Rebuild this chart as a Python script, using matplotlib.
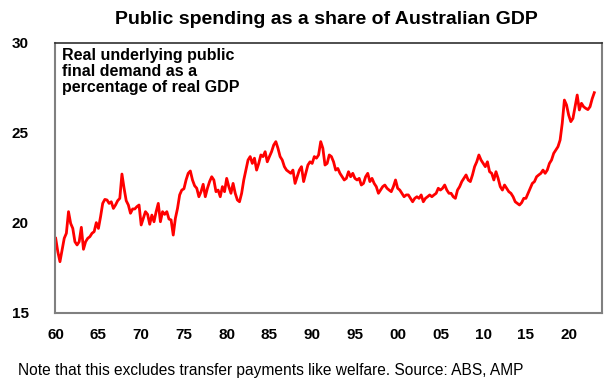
import matplotlib
matplotlib.use("Agg")
import matplotlib.pyplot as plt
import numpy as np

plt.rcParams['font.family'] = ['Liberation Sans', 'DejaVu Sans']

# quarterly readings, real underlying public final demand as % of real GDP
first_year = 1960.0
share = [
    # 1960s
    19.15, 18.4, 17.85, 18.5, 19.15, 19.43, 20.63, 19.98, 19.7, 18.96,
    18.78, 18.96, 19.76, 18.54, 18.96, 19.15, 19.24, 19.43, 19.52, 20.02,
    19.7, 20.35, 21.09, 21.31, 21.28, 21.09, 21.18, 20.81, 21.0, 21.24,
    21.37, 22.72, 21.93, 21.24, 21.0, 20.54, 20.78, 20.78,
    # 1970s
    20.91, 21.0, 19.89, 20.26, 20.63, 20.48, 19.93, 20.44, 20.07, 20.63,
    21.09, 20.07, 20.63, 20.48, 20.63, 20.22, 20.17, 19.33, 20.26, 20.81,
    21.56, 21.83, 21.9, 22.39, 22.76, 22.89, 22.39, 22.07, 21.93, 21.46,
    21.74, 22.15, 21.46, 21.93, 22.3, 22.57, 22.39, 21.74,
    # late 70s - 1991
    21.83, 21.46, 22.02, 21.74, 22.48, 22.02, 21.65, 22.2, 21.65, 21.28,
    21.18, 21.65, 22.39, 22.94, 23.5, 23.69, 23.31, 23.6, 22.94, 23.31,
    23.78, 23.69, 23.96, 23.4, 23.69, 23.96, 24.33, 24.52, 24.15, 23.69,
    23.5, 23.13, 22.94, 22.85, 22.76, 22.94, 22.2, 22.57, 22.94, 23.13,
    22.3, 22.76, 23.22, 23.4, 23.31, 23.69, 23.6, 23.78, 24.52,
    # 1991 - 2006
    24.15, 23.22, 23.31, 23.78, 23.69, 23.4, 22.94, 23.03, 22.76, 22.57,
    22.39, 22.48, 22.85, 22.57, 22.76, 22.48, 22.39, 22.48, 22.11, 22.2,
    22.57, 22.76, 22.3, 22.48, 22.2, 22.02, 21.65, 21.83, 22.02, 22.11,
    21.93, 21.83, 21.74, 22.02, 22.39, 21.93, 21.83, 21.65, 21.46, 21.56,
    21.56, 21.37, 21.18, 21.37, 21.46, 21.37, 21.56, 21.18, 21.37, 21.46,
    21.56, 21.46, 21.56, 21.65, 21.93, 21.83, 21.93, 22.11, 21.83, 21.65,
    # 2006 - latest
    21.65, 21.46, 21.37, 21.83, 22.02, 22.3, 22.48, 22.67, 22.39, 22.3,
    22.67, 23.13, 23.4, 23.78, 23.5, 23.31, 23.13, 23.4, 22.85, 22.76,
    22.39, 22.85, 22.48, 22.02, 21.83, 22.11, 21.93, 21.74, 21.65, 21.46,
    21.18, 21.09, 21.0, 21.13, 21.37, 21.37, 21.65, 21.93, 22.2, 22.3,
    22.57, 22.67, 22.76, 22.94, 22.76, 22.94, 23.31, 23.5, 23.87, 24.06,
    24.24, 24.61, 25.54, 26.83, 26.56, 26.0, 25.63, 25.81, 26.46, 27.11,
    26.28, 26.65, 26.46, 26.37, 26.3, 26.46, 26.9, 27.24,
]
tick_years = [1960, 1965, 1970, 1975, 1980, 1985, 1990, 1995, 2000, 2005, 2010, 2015, 2020]
tick_labels = ['60', '65', '70', '75', '80', '85', '90', '95', '00', '05', '10', '15', '20']
y_ticks = [15, 20, 25, 30]

years = first_year + 0.25 * np.arange(len(share))

#####################################################################
fig = plt.figure(figsize=(6.14, 3.89), dpi=100)
ax = fig.add_axes([55 / 614, 1 - 313 / 389, (602 - 55) / 614, (313 - 43) / 389])

ax.plot(years, share, color='#ff0000', lw=2.0, solid_joinstyle='round')

ax.set_xlim(1959.92, 2023.9)
ax.set_ylim(15, 30)
ax.set_xticks(tick_years)
ax.set_xticklabels(tick_labels)
ax.set_yticks(y_ticks)
ax.tick_params(length=0, labelsize=11)
ax.tick_params(axis='x', pad=11)
ax.tick_params(axis='y', pad=19)
for lab in ax.get_xticklabels() + ax.get_yticklabels():
    lab.set_fontweight('bold')

for side in ['left', 'bottom', 'right']:
    ax.spines[side].set_color('#808080')
    ax.spines[side].set_linewidth(1.5)
ax.spines['top'].set_color('#303030')
ax.spines['top'].set_linewidth(1.2)

#####################################################################
# texts
fig.text(326 / 614, 1 - 20 / 389, 'Public spending as a share of Australian GDP',
         ha='center', va='center', fontsize=14, fontweight='bold')
ax.text(0.013, 0.98, 'Real underlying public\nfinal demand as a\npercentage of real GDP',
        transform=ax.transAxes, ha='left', va='top', fontsize=11.5,
        fontweight='bold', linespacing=1.08)
fig.text(18 / 614, 1 - 370 / 389,
         'Note that this excludes transfer payments like welfare. Source: ABS, AMP',
         ha='left', va='center', fontsize=11.2)

fig.savefig('out.png', dpi=100)
